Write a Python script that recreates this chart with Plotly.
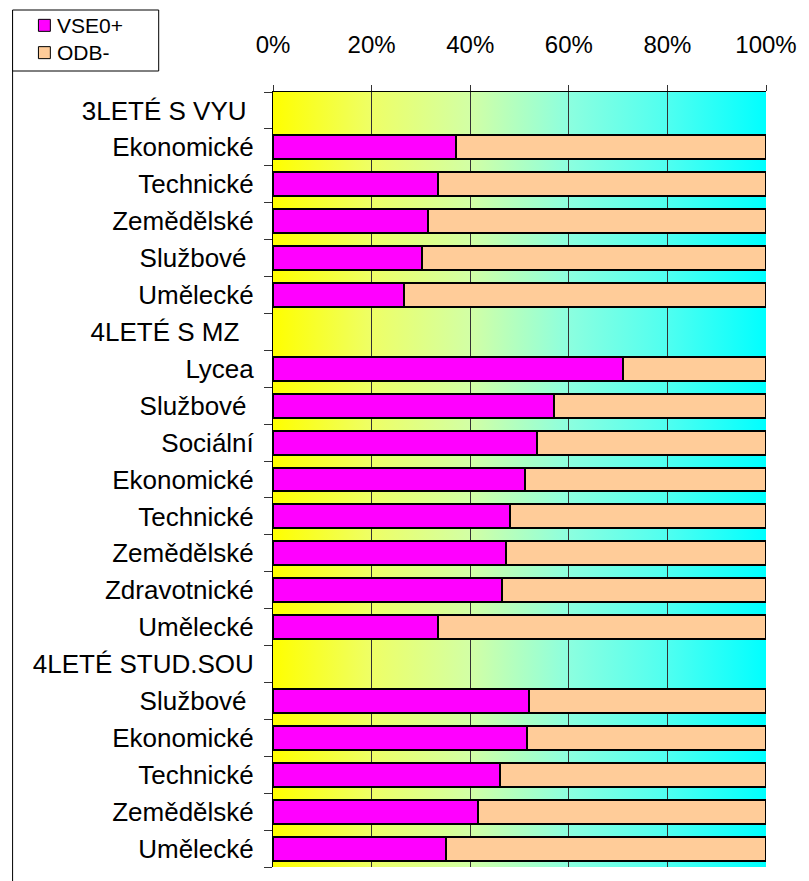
import base64
import plotly.graph_objects as go

# rows top to bottom; None = group header without a bar
labels = [
    "3LETÉ S VYU\u00a0", "Ekonomické", "Technické", "Zemědělské", "Službové\u00a0", "Umělecké",
    "4LETÉ S MZ\u00a0\u00a0", "Lycea", "Službové\u00a0", "Sociální", "Ekonomické", "Technické",
    "Zemědělské", "Zdravotnické", "Umělecké",
    "4LETÉ STUD.SOU", "Službové\u00a0", "Ekonomické", "Technické", "Zemědělské", "Umělecké",
]
vse0 = [
    None, 37.1, 33.5, 31.5, 30.2, 26.6,
    None, 71.0, 56.9, 53.6, 51.2, 48.0, 47.2, 46.4, 33.5,
    None, 52.0, 51.6, 46.0, 41.5, 35.1,
]
odb = [None if v is None else round(100 - v, 1) for v in vse0]
series_names = ["VSE0+", "ODB-"]
series_colors = ["#FF00FF", "#FFCC99"]
tick_labels = ["0%", "20%", "40%", "60%", "80%", "100%"]

rows = list(range(len(labels)))
FONT = "Liberation Sans, Arial, sans-serif"

fig = go.Figure()
for name, vals, color in zip(series_names, [vse0, odb], series_colors):
    fig.add_trace(go.Bar(
        y=rows, x=vals, name=name, orientation="h", width=0.65, showlegend=False,
        marker=dict(color=color, line=dict(color="black", width=2)),
    ))

# yellow -> cyan gradient behind the plot area
stops = [(0, "#FFFF00"), (0.2, "#EEFF66"), (0.4, "#D2FFA5"), (0.6, "#8CFFDF"),
         (0.8, "#4FFFF0"), (1, "#00FFFF")]
svg = ('<svg xmlns="http://www.w3.org/2000/svg" width="100" height="10" viewBox="0 0 100 10" '
       'preserveAspectRatio="none"><defs><linearGradient id="g" x1="0" x2="1" y1="0" y2="0">'
       + "".join(f'<stop offset="{o}" stop-color="{c}"/>' for o, c in stops)
       + '</linearGradient></defs><rect width="100" height="10" fill="url(#g)"/></svg>')
src = "data:image/svg+xml;base64," + base64.b64encode(svg.encode()).decode()
fig.add_layout_image(dict(source=src, xref="paper", yref="paper", x=0, y=1,
                          sizex=1, sizey=1, sizing="stretch", layer="below",
                          xanchor="left", yanchor="top"))

# page has an 8px body margin, so the figure is sized to fit the window
W, H = 801, 873
L, R, T, B = 265, 40, 84, 14
pw, ph = W - L - R, H - T - B


def px_x(p):
    return (p - L) / pw


def px_y(p):
    return (H - B - p) / ph


# chart-area frame line on the far left
fig.add_shape(type="line", xref="paper", yref="paper",
              x0=px_x(3), x1=px_x(3), y0=px_y(H), y1=px_y(2),
              line=dict(color="black", width=1))

# legend box in the top-left corner of the chart area
LEG_FS = 21
leg_mid = 31
pitch = LEG_FS * 1.3
fig.add_shape(type="rect", xref="paper", yref="paper",
              x0=px_x(3), x1=px_x(150), y0=px_y(63), y1=px_y(2),
              line=dict(color="black", width=1), fillcolor="white")
for i, color in enumerate(series_colors):
    cy = leg_mid + (i - 0.5) * pitch
    fig.add_shape(type="rect", xref="paper", yref="paper",
                  x0=px_x(29), x1=px_x(41), y0=px_y(cy + 6), y1=px_y(cy - 6),
                  line=dict(color="black", width=1), fillcolor=color)
fig.add_annotation(text="<br>".join(series_names), xref="paper", yref="paper",
                   x=px_x(47), y=px_y(leg_mid), xanchor="left", yanchor="middle",
                   align="left", showarrow=False, font=dict(size=LEG_FS), borderpad=0)

fig.update_layout(
    width=W, height=H,
    margin=dict(l=L, r=R, t=T, b=B),
    barmode="stack",
    showlegend=False,
    paper_bgcolor="white",
    plot_bgcolor="rgba(0,0,0,0)",
    font=dict(family=FONT, size=26, color="black"),
    xaxis=dict(
        side="top", range=[0, 100], tickvals=[0, 20, 40, 60, 80, 100],
        ticktext=tick_labels, showgrid=True, gridcolor="#333333", gridwidth=1,
        showline=True, linecolor="black", linewidth=1,
        ticks="outside", ticklen=6, tickcolor="#333333", zeroline=False,
        tickfont=dict(size=24), ticklabelstandoff=22,
    ),
    yaxis=dict(
        range=[len(labels) - 0.5, -0.5], tickvals=rows, ticktext=labels,
        ticks="", showgrid=False, zeroline=False,
        showline=True, linecolor="black", linewidth=1, ticklabelstandoff=13,
        minor=dict(tickvals=[r - 0.5 for r in rows] + [len(labels) - 0.5],
                   ticks="outside", ticklen=8, tickcolor="#333333", showgrid=False),
    ),
)

fig.write_html("out.html")
